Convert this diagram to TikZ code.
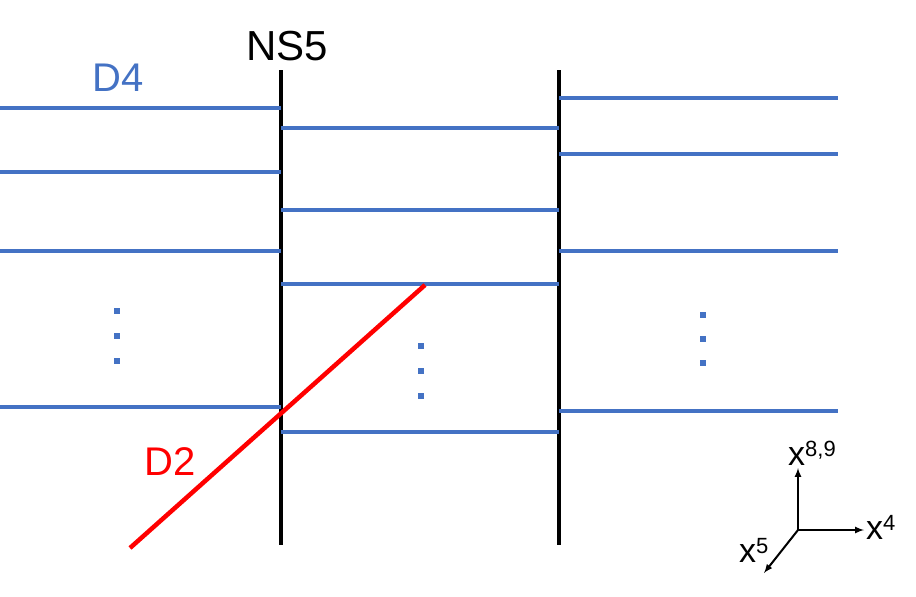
\documentclass[tikz,border=0pt]{standalone}
\usepackage{fontspec}
\setmainfont{Liberation Sans}
\begin{document}
\begin{tikzpicture}[x=1pt,y=-1pt,
  d4/.style={draw=blue4,line width=4.5pt},
  ns/.style={draw=black,line width=4.5pt},
  dotst/.style={fill=blue4,minimum size=6pt,inner sep=0pt,draw=none},
  ax/.style={line width=2pt,-latex}]
\definecolor{blue4}{HTML}{4472C4}
\useasboundingbox (0,0) rectangle (916,597);
\coordinate (L1) at (281,70); \coordinate (L2) at (281,545);
\coordinate (R1) at (559,70); \coordinate (R2) at (559,545);
\draw[ns] (L1) -- (L2);
\draw[ns] (R1) -- (R2);
\foreach \y in {108,172,251,407} \draw[d4] (0,\y) -- (281,\y);
\foreach \y in {128,210,284,432} \draw[d4] (281,\y) -- (559,\y);
\foreach \y in {98,154,251,411} \draw[d4] (559,\y) -- (838,\y);
\foreach \y in {311,336,361} \node[dotst] at (117,\y) {};
\foreach \y in {346,371,396} \node[dotst] at (421,\y) {};
\foreach \y in {315,339,363} \node[dotst] at (703,\y) {};
\coordinate (a) at (130,548); \coordinate (b) at (425,285);
\draw[red,line width=4.5pt] (a) -- (b);
\node[font=\fontsize{42}{42}\selectfont] (ns5) at (287,46) {NS5};
\node[font=\fontsize{40}{40}\selectfont,text=blue4] (d4) at (118,78) {D4};
\node[font=\fontsize{40}{40}\selectfont,text=red] (d2) at (170,462) {D2};
\coordinate (o) at (798,530);
\coordinate (u) at (798,468);
\coordinate (r) at (864,530);
\coordinate (dl) at (764,573);
\draw[ax] (o) -- (u);
\draw[ax] (o) -- (r);
\draw[ax] (o) -- (dl);
\node[font=\fontsize{34}{34}\selectfont,anchor=west,inner sep=0pt] (x89) at (788,453) {x\textsuperscript{\fontsize{22}{22}\selectfont 8,9}};
\node[font=\fontsize{34}{34}\selectfont,anchor=west,inner sep=0pt] (x4) at (866,527) {x\textsuperscript{\fontsize{22}{22}\selectfont 4}};
\node[font=\fontsize{34}{34}\selectfont,anchor=west,inner sep=0pt] (x5) at (739,550) {x\textsuperscript{\fontsize{22}{22}\selectfont 5}};
\end{tikzpicture}
\end{document}
